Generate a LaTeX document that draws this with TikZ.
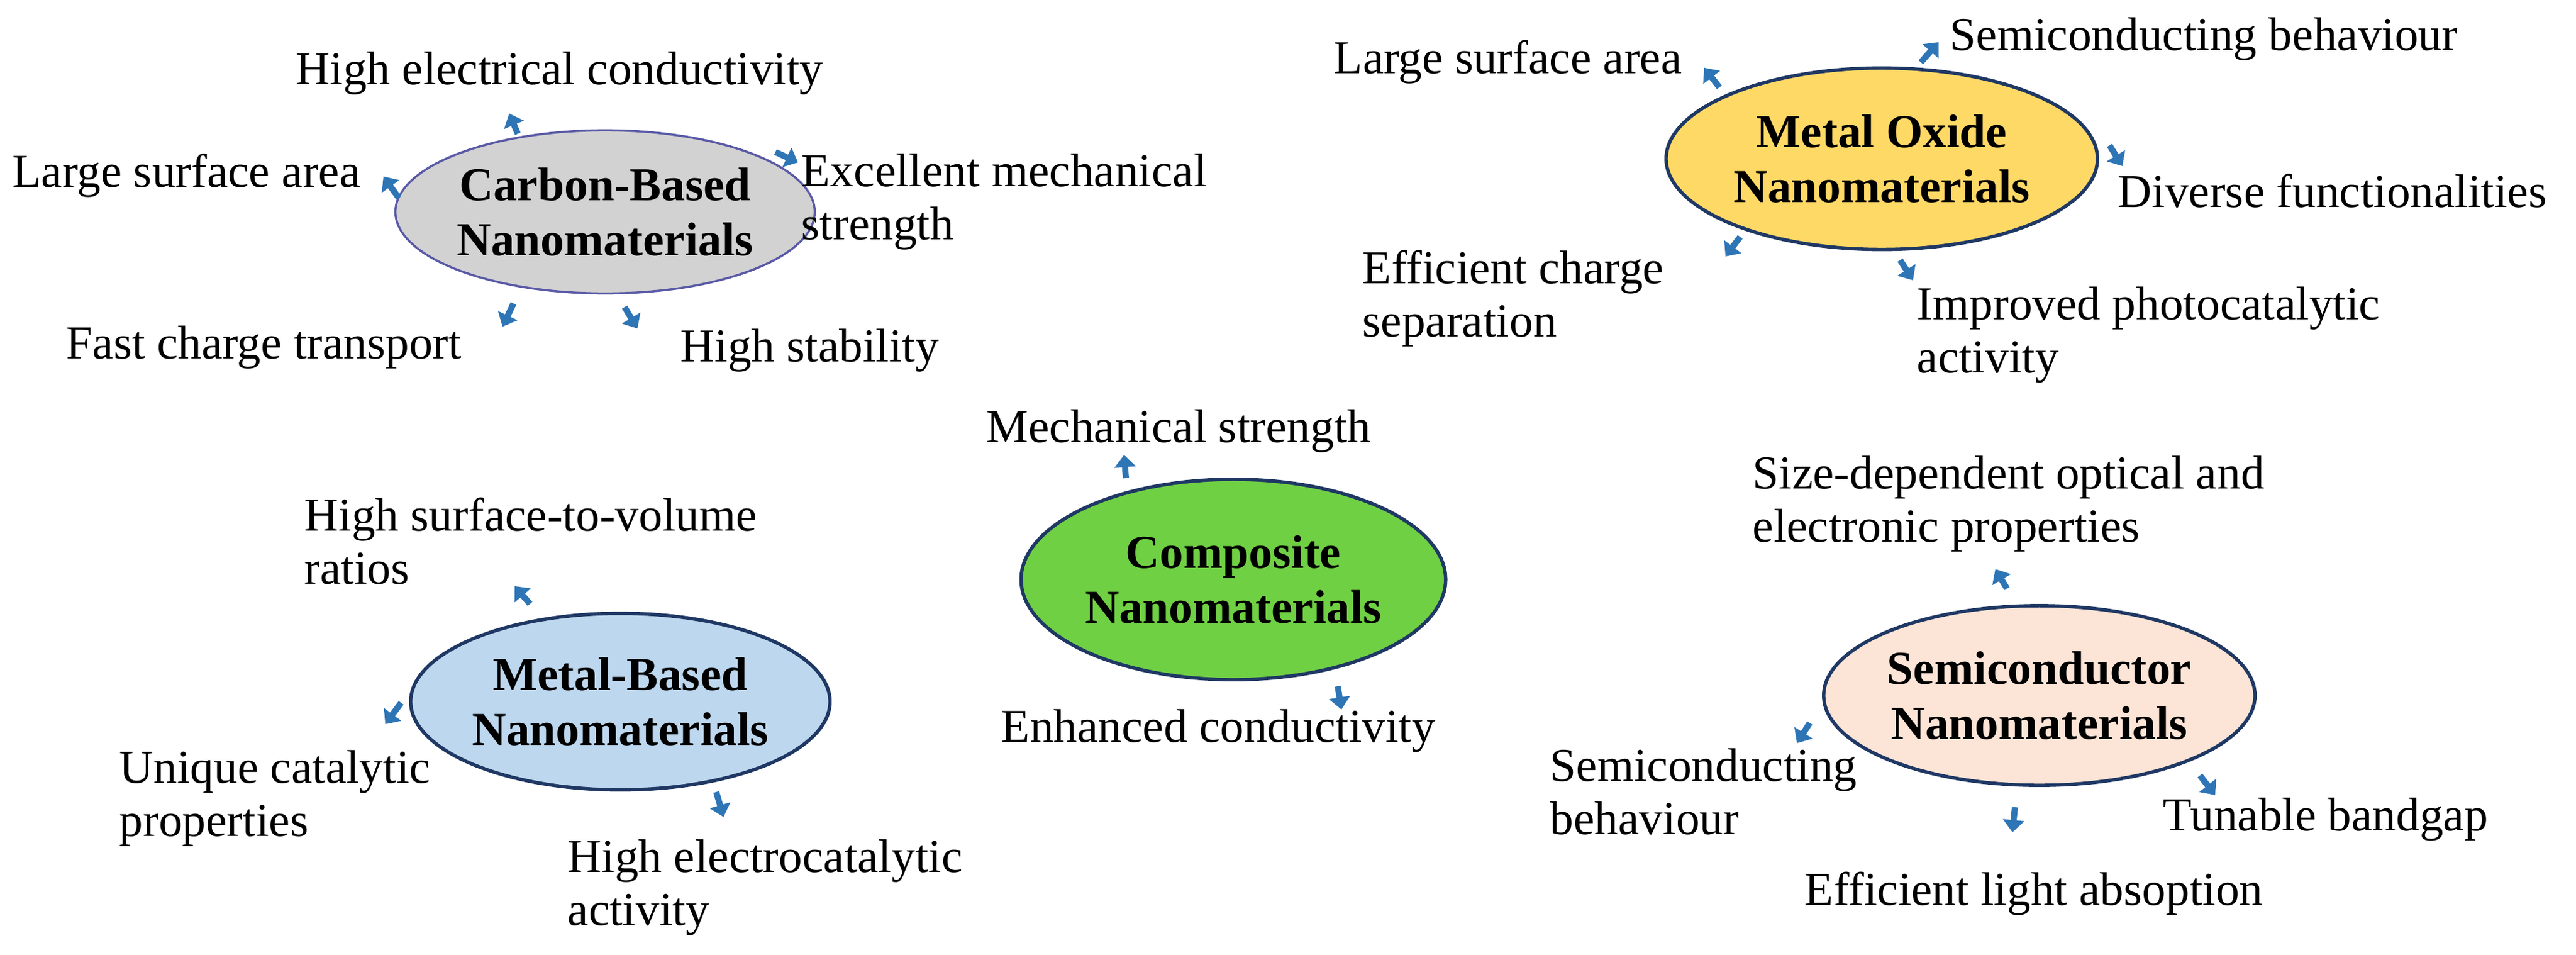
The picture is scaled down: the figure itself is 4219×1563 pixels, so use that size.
\documentclass[tikz,border=0pt]{standalone}
\usepackage{fontspec}
\setmainfont{Liberation Serif}
\usetikzlibrary{arrows.meta,shapes.geometric}
\definecolor{arrblue}{HTML}{2E75B6}
\definecolor{rimblue}{HTML}{1F3864}
\tikzset{
  cat/.style={ellipse, draw=rimblue, line width=1.6pt, align=center,
    font=\bfseries\fontsize{22}{25.5}\selectfont, inner sep=0pt},
  prop/.style={anchor=base west, align=left, inner sep=0pt,
    font=\fontsize{22}{24.5}\selectfont},
  blk/.style={draw=arrblue, line width=0.1cm,
    -{Triangle[length=0.2cm,width=0.34cm]}}
}
\begin{document}
\begin{tikzpicture}[x=0.01cm,y=-0.01cm]
\useasboundingbox (0,0) rectangle (4219,1563);

% categories
\node[cat, fill=gray!35, draw=gray!70!blue, line width=1pt,
  minimum width=6.22cm, minimum height=2.67cm] (carbon) at (991,347) {Carbon-Based\\Nanomaterials};
\node[cat, fill={rgb,255:red,255;green,217;blue,102},
  minimum width=7.06cm, minimum height=2.97cm] (oxide) at (3082,260) {Metal Oxide\\Nanomaterials};
\node[cat, fill={rgb,255:red,189;green,215;blue,238},
  minimum width=6.78cm, minimum height=2.89cm] (metal) at (1016,1149) {Metal-Based\\Nanomaterials};
\node[cat, fill={rgb,255:red,112;green,208;blue,68},
  minimum width=6.95cm, minimum height=3.28cm] (comp) at (2020,949) {Composite\\Nanomaterials};
\node[cat, fill={rgb,255:red,252;green,228;blue,214},
  minimum width=7.06cm, minimum height=2.94cm] (semi) at (3340,1139) {Semiconductor\\Nanomaterials};

% carbon-based
\node[prop] (cb1) at (484,138) {High electrical conductivity};
\node[prop] (cb2) at (20,306) {Large surface area};
\node[prop] (cb3) at (1312,392) {Excellent mechanical\\strength};
\node[prop] (cb4) at (108,587) {Fast charge transport};
\node[prop] (cb5) at (1114,592) {High stability};

% metal oxide
\node[prop] (mo1) at (2184,120) {Large surface area};
\node[prop] (mo2) at (3193,82) {Semiconducting behaviour};
\node[prop] (mo3) at (3468,339) {Diverse functionalities};
\node[prop] (mo4) at (2231,551) {Efficient charge\\separation};
\node[prop] (mo5) at (3139,610) {Improved photocatalytic\\activity};

% metal-based
\node[prop] (mb1) at (498,956) {High surface-to-volume\\ratios};
\node[prop] (mb2) at (195,1369) {Unique catalytic\\properties};
\node[prop] (mb3) at (929,1515) {High electrocatalytic\\activity};

% composite
\node[prop] (cp1) at (1615,724) {Mechanical strength};
\node[prop] (cp2) at (1639,1215) {Enhanced conductivity};

% semiconductor
\node[prop] (sc1) at (2870,887) {Size-dependent optical and\\electronic properties};
\node[prop] (sc2) at (2538,1366) {Semiconducting\\behaviour};
\node[prop] (sc3) at (3542,1360) {Tunable bandgap};
\node[prop] (sc4) at (2955,1482) {Efficient light absoption};

% block arrows
\foreach \n/\tx/\ty/\hx/\hy in {
  a1/848/219/834/186, a2/653/324/628/289, a3/1270/249/1307/266,
  a4/841/497/823/535, a5/1023/503/1044/538,
  a6/2816/143/2791/111, a7/3146/102/3175/69, a8/3455/238/3476/272,
  a9/2850/388/2826/420, a10/3112/426/3133/459,
  a11/868/989/843/960, a12/657/1151/631/1186, a13/1173/1297/1185/1338,
  a14/1844/783/1841/745, a15/2191/1124/2197/1162,
  a16/3287/964/3268/932, a17/2964/1184/2943/1217,
  a18/3603/1270/3628/1302, a19/3300/1322/3296/1363}{
  \coordinate (\n t) at (\tx,\ty);
  \coordinate (\n h) at (\hx,\hy);
  \draw[blk] (\n t) -- (\n h);
}

\end{tikzpicture}
\end{document}
